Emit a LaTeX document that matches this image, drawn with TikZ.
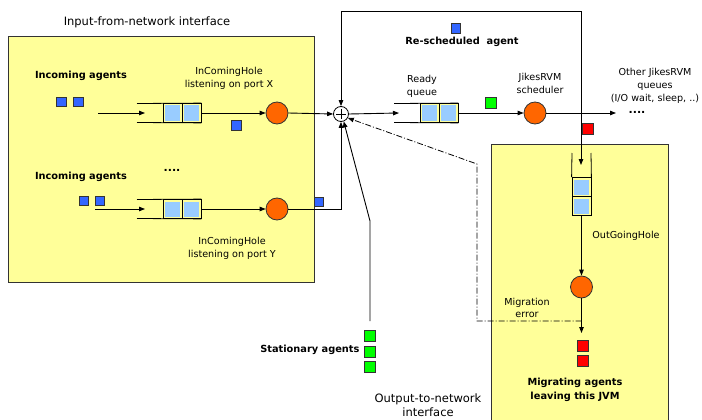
\documentclass[tikz,border=0pt]{standalone}
\usepackage{fontspec}
\setmainfont{DejaVu Sans}
\usetikzlibrary{arrows.meta,calc}
\definecolor{boxyellow}{HTML}{FFFF99}
\definecolor{cellblue}{HTML}{99CCFF}
\definecolor{holeorange}{HTML}{FF6600}
\definecolor{agentblue}{HTML}{3366FF}
\definecolor{agentgreen}{HTML}{00FF00}
\definecolor{agentred}{HTML}{FF0000}
\definecolor{edge}{HTML}{333333}
\tikzset{
  area/.style={draw=edge, fill=boxyellow, line width=0.9pt},
  cell/.style={draw=black, line width=0.8pt, fill=boxyellow, minimum size=19pt, inner sep=0pt,
    path picture={\fill[cellblue] ([shift={(2pt,-2pt)}]path picture bounding box.north west)
      rectangle ([shift={(-2pt,2pt)}]path picture bounding box.south east);}},
  hole/.style={circle, draw=edge, line width=0.8pt, fill=holeorange, minimum size=22pt, inner sep=0pt},
  agent/.style={draw=edge, line width=0.7pt, minimum size=9.5pt, inner sep=0pt},
  bigagent/.style={draw=edge, line width=0.7pt, minimum size=11pt, inner sep=0pt},
  flow/.style={draw=black, line width=0.9pt, -{Triangle[length=6pt,width=4.5pt]}},
  wire/.style={draw=black, line width=0.8pt},
  errflow/.style={flow, line width=0.8pt, dash pattern=on 6pt off 2pt on 1pt off 2pt},
  title/.style={font=\fontsize{11.5}{13.5}\selectfont, align=center},
  lbl/.style={font=\fontsize{9.6}{12.8}\selectfont, align=center},
  blbl/.style={font=\fontsize{9.8}{13.8}\selectfont\bfseries, align=center},
}
\begin{document}
\begin{tikzpicture}[x=1pt,y=-1pt]
\useasboundingbox (0,0) rectangle (702,420);
\clip (0,0) rectangle (702,420);

% the two interface areas
\node[area, anchor=north west, minimum width=306pt, minimum height=246pt] (inbox) at (8,36) {};
\node[area, anchor=north west, minimum width=177pt, minimum height=290pt] (outbox) at (491,144) {};
\node[title] (intitle) at (147,22) {Input-from-network interface};
\node[title, anchor=south] (outtitle) at (428,420) {Output-to-network\\interface};

% merge point
\node[circle, draw=black, line width=0.8pt, minimum size=15pt, inner sep=0pt] (sum) at (341,114) {};
\draw[line width=0.9pt] ($(sum.center)+(-5,0)$) -- ($(sum.center)+(5,0)$)
                        ($(sum.center)+(0,-5)$) -- ($(sum.center)+(0,5)$);

% ---- incoming hole on port X
\node[blbl] (inx) at (81,76) {Incoming agents};
\node[agent, fill=agentblue] (ax1) at (61.5,102) {};
\node[agent, fill=agentblue] (ax2) at (78.5,102) {};
\coordinate (srcx) at (98,113);
\node[cell] (qx1) at (172.5,113) {};
\node[cell] (qx2) at (191.5,113) {};
\draw[wire] (137,103.5) -- (qx2.north east);
\draw[wire] (137,122.5) -- (qx2.south east);
\draw[flow] (srcx) -- (145,113);
\node[hole] (hx) at (277,113) {};
\draw[flow] (qx2.east) -- (hx.west);
\node[lbl] (hxlbl) at (229,78.5) {InComingHole\\listening on port X};
\node[agent, fill=agentblue] (mx) at (236.5,125.5) {};
\draw[flow] (hx.east) -- (sum.west);

% ---- incoming hole on port Y
\node[blbl] (iny) at (81,177) {Incoming agents};
\node[lbl, font=\fontsize{11}{12}\selectfont\bfseries] (dotsy) at (172,170) {....};
\node[agent, fill=agentblue] (ay1) at (84,201) {};
\node[agent, fill=agentblue] (ay2) at (100,201) {};
\coordinate (srcy) at (95,209);
\node[cell] (qy1) at (172.5,209) {};
\node[cell] (qy2) at (191.5,209) {};
\draw[wire] (137,199.5) -- (qy2.north east);
\draw[wire] (137,218.5) -- (qy2.south east);
\draw[flow] (srcy) -- (145,209);
\node[hole] (hy) at (277,209) {};
\draw[flow] (qy2.east) -- (hy.west);
\node[lbl] (hylbl) at (232,248.5) {InComingHole\\listening on port Y};
\node[agent, fill=agentblue] (my) at (319,202) {};
\coordinate (yturn) at (341,209);
\draw[flow] (hy.east) -- (yturn) -- (sum.south);

% ---- ready queue and scheduler
\node[cell] (qr1) at (429.5,113) {};
\node[cell] (qr2) at (448.5,113) {};
\draw[wire] (394,103.5) -- (qr2.north east);
\draw[wire] (394,122.5) -- (qr2.south east);
\draw[flow] (sum.east) -- (399,113);
\node[lbl] (rqlbl) at (422,86) {Ready\\queue};
\node[agent, fill=agentgreen, minimum size=11pt] (mr) at (491,103) {};
\node[hole] (sched) at (535,113) {};
\draw[flow] (qr2.east) -- (sched.west);
\node[lbl] (schedlbl) at (540,83.5) {JikesRVM\\scheduler};
\coordinate (branch) at (581,113);
\coordinate (others) at (616,113);
\draw[flow] (sched.east) -- (others);
\node[lbl, font=\fontsize{11}{12}\selectfont\bfseries] (dotso) at (637,112) {....};
\node[lbl] (otherlbl) at (655,86) {Other JikesRVM\\queues\\(I/O wait, sleep, ..)};

% ---- re-scheduling loop
\node[agent, fill=agentblue] (rs) at (456,28.5) {};
\node[blbl] (rslbl) at (462,42) {Re-scheduled~~agent};
\draw[flow] (branch) -- (581,11) -- (341,11) -- (sum.north);
\node[agent, fill=agentred, minimum size=11pt] (mred) at (588,128.5) {};

% ---- outgoing hole
\node[cell] (qo1) at (581.5,187) {};
\node[cell] (qo2) at (581.5,206) {};
\draw[wire] (572,153) -- (qo1.north west);
\draw[wire] (591,153) -- (qo1.north east);
\draw[flow] (branch) -- (581,165);
\node[lbl] (holbl) at (626,236) {OutGoingHole};
\node[hole] (ho) at (581.5,287) {};
\draw[flow] (qo2.south) -- (ho.north);
\node[bigagent, fill=agentred] (mg1) at (582.5,346) {};
\node[bigagent, fill=agentred] (mg2) at (582.5,361) {};
\draw[flow] (ho.south) -- (581.5,333);
\node[blbl] (mglbl) at (575,390) {Migrating agents\\leaving this JVM};

% ---- migration error path back to the merge point
\coordinate (err) at (581.5,321);
\node[lbl] (errlbl) at (527,308) {Migration\\error};
\draw[errflow] (err) -- (477,321) -- (477,164) -- (sum.-30);

% ---- stationary agents
\node[bigagent, fill=agentgreen] (st1) at (370,336) {};
\node[bigagent, fill=agentgreen] (st2) at (370,351.5) {};
\node[bigagent, fill=agentgreen] (st3) at (370,367) {};
\node[blbl, anchor=east] (stlbl) at (363,350) {Stationary agents};
\draw[flow] (370,321) -- (370,221) -- (sum.-70);

\end{tikzpicture}
\end{document}
